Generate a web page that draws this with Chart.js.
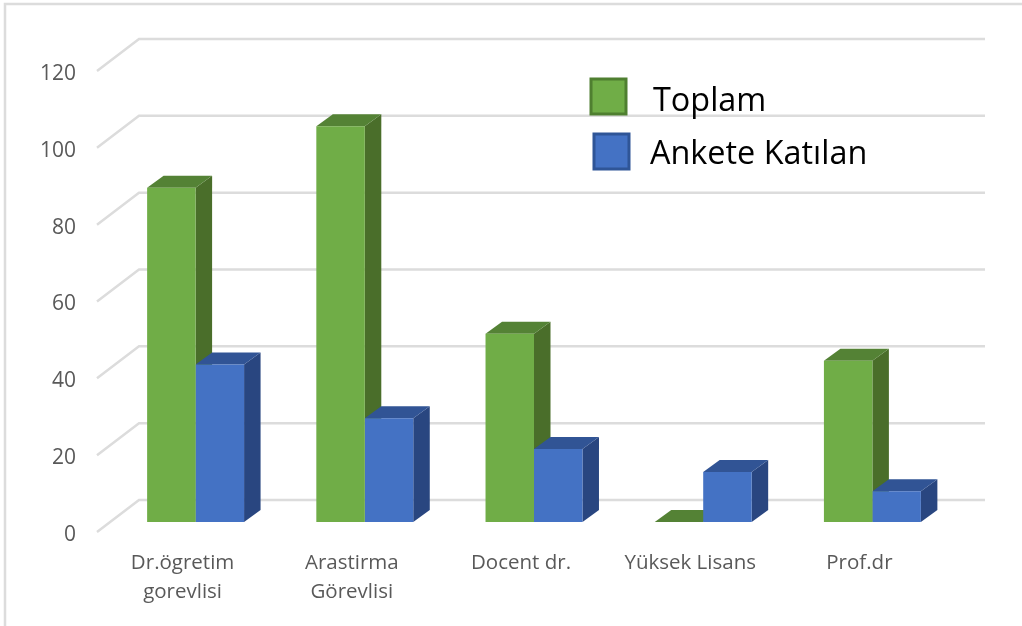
<!DOCTYPE html>
<html>
  <head>
    <meta charset="utf-8">
    <script src="https://cdn.jsdelivr.net/npm/chart.js"></script>
    <style>
      html, body { margin: 0; padding: 0; background: #fff; }
      canvas { display: block; }
    </style>
  </head>
  <body>
    <canvas id="gura" width="1022" height="626"></canvas>
    <script>
      const categories = [['Dr.ögretim', 'gorevlisi'], ['Arastirma', 'Görevlisi'], 'Docent dr.', 'Yüksek Lisans', 'Prof.dr'];
      const toplam = [87, 103, 49, 0, 42];
      const katilan = [41, 27, 19, 13, 8];
      const yTicks = [0, 20, 40, 60, 80, 100, 120];

      const FONT = '"Open Sans", "Noto Sans", sans-serif';
      const GRID = '#DCDCDC';
      const green = { front: '#70AD47', top: '#548235', side: '#4A6E2A' };
      const blue = { front: '#4472C4', top: '#315495', side: '#294680' };

      // 3D look: bars sit mid depth, walls are shifted from the value scale
      const barDepth = { x: 16.5, y: -12 };
      const wallFront = { x: -14, y: 10 };
      const wallBack = { x: 28, y: -22 };

      function poly(ctx, pts, color) {
        ctx.fillStyle = color;
        ctx.beginPath();
        pts.forEach((p, i) => i ? ctx.lineTo(p[0], p[1]) : ctx.moveTo(p[0], p[1]));
        ctx.closePath();
        ctx.fill();
      }

      const wallPlugin = {
        id: 'wall',
        beforeDatasetsDraw(chart) {
          const { ctx, scales, chartArea } = chart;
          ctx.save();
          ctx.strokeStyle = GRID;
          ctx.lineWidth = 2.5;
          // outer frame
          ctx.beginPath();
          ctx.moveTo(5, 626);
          ctx.lineTo(5, 4);
          ctx.lineTo(1022, 4);
          ctx.stroke();
          yTicks.forEach(v => {
            const y = scales.y.getPixelForValue(v);
            ctx.beginPath();
            ctx.moveTo(chartArea.left + wallFront.x, y + wallFront.y);
            ctx.lineTo(chartArea.left + wallBack.x, y + wallBack.y);
            ctx.lineTo(chartArea.right + wallBack.x, y + wallBack.y);
            ctx.stroke();
          });
          // sides and tops of the bars, fronts are drawn by chart.js on top
          chart.data.datasets.forEach((ds, d) => {
            const look = d === 0 ? green : blue;
            chart.getDatasetMeta(d).data.forEach(bar => {
              const p = bar.getProps(['x', 'y', 'base', 'width'], true);
              const l = p.x - p.width / 2, r = p.x + p.width / 2;
              const dx = barDepth.x, dy = barDepth.y;
              poly(ctx, [[r, p.y], [r + dx, p.y + dy], [r + dx, p.base + dy], [r, p.base]], look.side);
              poly(ctx, [[l, p.y], [l + dx, p.y + dy], [r + dx, p.y + dy], [r, p.y]], look.top);
            });
          });
          ctx.restore();
        }
      };

      const legendPlugin = {
        id: 'cornerLegend',
        afterDraw(chart) {
          const { ctx } = chart;
          const items = [
            { ds: 0, look: green, box: [591, 79, 35, 35], border: '#4F7F30', tx: 653, ty: 102 },
            { ds: 1, look: blue, box: [594, 134, 35, 35], border: '#2F5597', tx: 650, ty: 155 }
          ];
          ctx.save();
          items.forEach(it => {
            ctx.fillStyle = it.look.front;
            ctx.strokeStyle = it.border;
            ctx.lineWidth = 3;
            ctx.fillRect(...it.box);
            ctx.strokeRect(...it.box);
            ctx.fillStyle = '#000';
            ctx.font = '32.4px ' + FONT;
            ctx.textAlign = 'left';
            ctx.textBaseline = 'middle';
            ctx.fillText(chart.data.datasets[it.ds].label, it.tx, it.ty);
          });
          ctx.restore();
        }
      };

      new Chart(document.getElementById('gura').getContext('2d'), {
        type: 'bar',
        data: {
          labels: categories,
          datasets: [
            { label: 'Toplam', data: toplam, backgroundColor: green.front, borderWidth: 0 },
            { label: 'Ankete Katılan', data: katilan, backgroundColor: blue.front, borderWidth: 0 }
          ]
        },
        options: {
          responsive: false,
          animation: false,
          layout: { padding: { top: 61, right: 65, left: 0, bottom: 0 } },
          datasets: { bar: { barPercentage: 1, categoryPercentage: 0.573 } },
          plugins: { legend: { display: false }, tooltip: { enabled: false } },
          scales: {
            x: {
              grid: { display: false, drawTicks: false },
              border: { display: false },
              afterFit(scale) { scale.height = 104; },
              ticks: {
                color: '#595959',
                font: { family: FONT, size: 20.5, lineHeight: 1.4 },
                padding: 27,
                labelOffset: -13,
                maxRotation: 0,
                autoSkip: false
              }
            },
            y: {
              min: 0,
              max: 120,
              grid: { display: false, drawTicks: false },
              border: { display: false },
              afterFit(scale) { scale.width = 111; },
              ticks: {
                stepSize: 20,
                color: '#595959',
                font: { family: FONT, size: 21 },
                padding: 35,
                labelOffset: 13
              }
            }
          }
        },
        plugins: [wallPlugin, legendPlugin]
      });
    </script>
  </body>
</html>
